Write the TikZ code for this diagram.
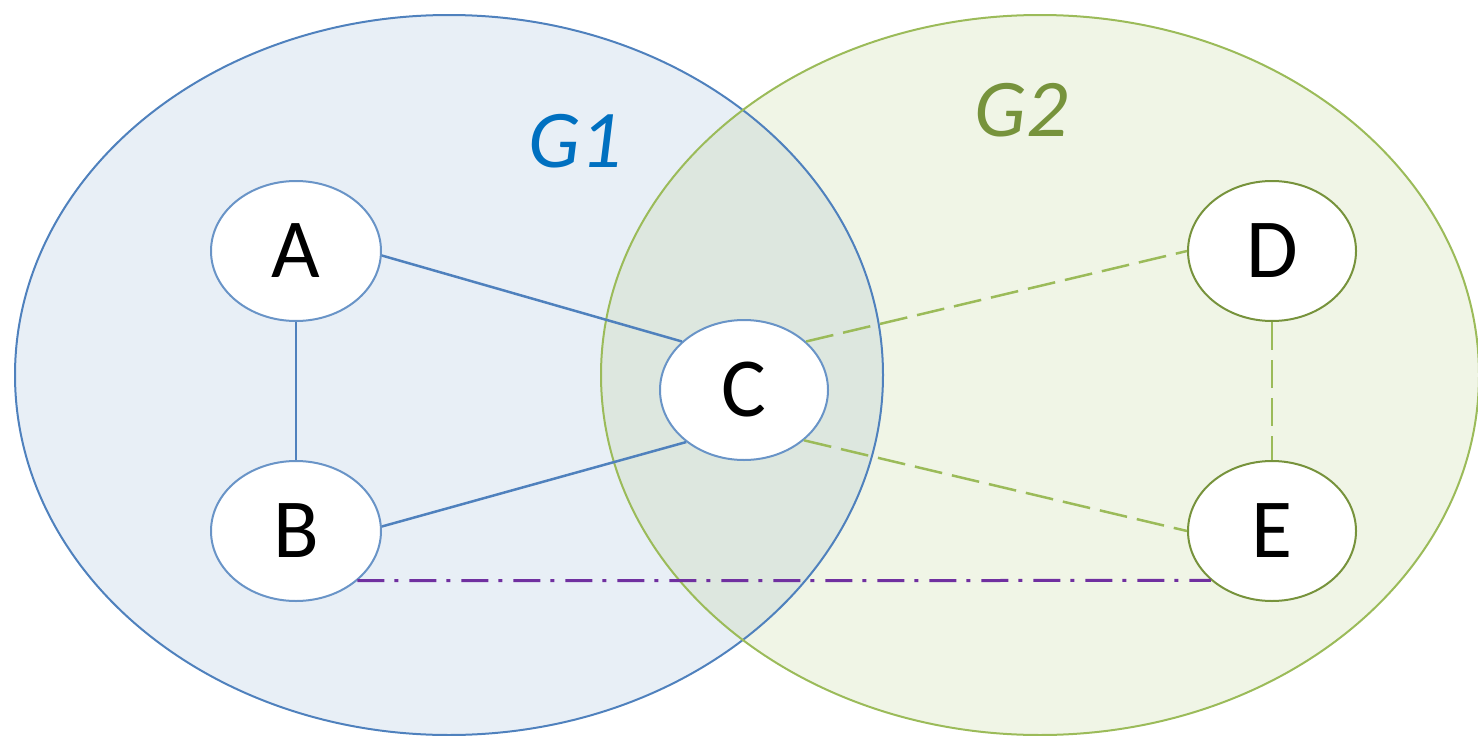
\documentclass[tikz,border=0pt]{standalone}
\usepackage{fontspec}
\setmainfont{Carlito}
\usetikzlibrary{shapes.geometric}
\definecolor{gblue}{HTML}{4F81BD}
\definecolor{ggreen}{HTML}{9BBB59}
\definecolor{golive}{HTML}{77933C}
\definecolor{glabel}{HTML}{0070C0}
\definecolor{gpurple}{HTML}{7030A0}
\tikzset{
  grp/.style={ellipse, inner sep=0pt, line width=2pt},
  vtx/.style={ellipse, draw, fill=white, line width=2pt, minimum width=170pt, minimum height=140pt, inner sep=0pt, font=\fontsize{84}{84}\selectfont},
  bvtx/.style={vtx, draw=gblue!85},
  gvtx/.style={vtx, draw=golive},
  bedge/.style={draw=gblue, line width=2.5pt},
  gedge/.style={draw=ggreen, line width=2.5pt, dash pattern=on 28pt off 10pt},
  pedge/.style={draw=gpurple, line width=3pt, dash pattern=on 27pt off 10pt on 4pt off 11pt},
  glab/.style={font=\fontsize{82}{82}\selectfont\itshape, inner sep=0pt}
}
\begin{document}
\begin{tikzpicture}[x=1pt,y=-1pt]
\useasboundingbox (0,0) rectangle (1478,736);
\node[grp, fill=gblue, fill opacity=0.13, minimum width=868pt, minimum height=720pt] (g1) at (449,375) {};
\node[grp, fill=ggreen, fill opacity=0.15, minimum width=878pt, minimum height=720pt] (g2) at (1040,375) {};
\node[grp, draw=gblue, minimum width=868pt, minimum height=720pt] (g1b) at (449,375) {};
\node[grp, draw=ggreen, minimum width=878pt, minimum height=720pt] (g2b) at (1040,375) {};
\node[glab, text=glabel] (l1) at (575,141) {G1};
\node[glab, text=golive] (l2) at (1021,110) {G2};
\node[bvtx] (A) at (296,251) {A};
\node[bvtx] (B) at (296,531) {B};
\node[bvtx, minimum width=168pt] (C) at (744,390) {C};
\node[gvtx, minimum width=168pt] (D) at (1272,251) {D};
\node[gvtx, minimum width=168pt] (E) at (1272,531) {E};
\draw[bedge] (A.south) -- (B.north);
\draw[bedge] (A.-3) -- (C.142);
\draw[bedge] (B.3) -- (C.-138);
\draw[gedge] (C.38) -- (D.180);
\draw[gedge] (C.-40) -- (E.180);
\draw[gedge] (D.south) -- (E.north);
\draw[pedge] (B.-39) -- (E.-141);
\end{tikzpicture}
\end{document}
